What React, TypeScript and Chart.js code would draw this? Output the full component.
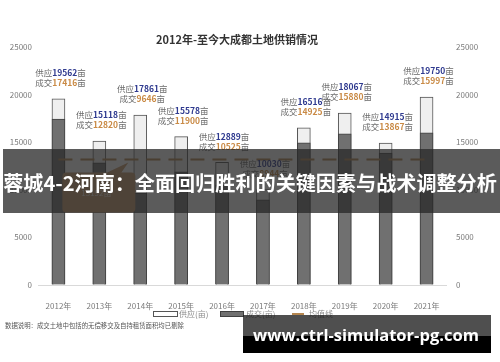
import { useEffect, useRef } from 'react';
import { Chart, registerables } from 'chart.js';

Chart.register(...registerables);

const years = ['2012年', '2013年', '2014年', '2015年', '2016年', '2017年', '2018年', '2019年', '2020年', '2021年'];
const supplyValues = [19562, 15118, 17861, 15578, 12889, 10030, 16516, 18067, 14915, 19750];
const dealValues = [17416, 12820, 9646, 11900, 10525, 8944, 14925, 15880, 13867, 15997];
const meanValues = [13192, 13192, 13192, 13192, 13192, 13192, 13192, 13192, 13192, 13192];
const meanLabel = '13192亩';
const yTickValues = [0, 5000, 10000, 15000, 20000, 25000];

const titleText = '2012年-至今大成都土地供销情况';
const bannerText = '蓉城4-2河南：全面回归胜利的关键因素与战术调整分析';
const siteText = 'www.ctrl-simulator-pg.com';
const noteText = '数据说明：成交土地中包括的无偿移交及自持租赁面积均已剔除';
const legendLabels = ['供应(亩)', '成交(亩)', '均值线'];

const CJK = '"Noto Sans CJK SC", "Noto Sans", sans-serif';
const SUPPLY_FILL = '#efefef';
const SUPPLY_BORDER = '#555555';
const DEAL_FILL = '#707070';
const DEAL_BORDER = '#404040';
const MEAN_COLOR = '#b5864f';
const NAVY = '#2f3a8f';
const ORANGE = '#c98a45';
const LABEL_GRAY = '#6a6a6a';

function fitSize(ctx: CanvasRenderingContext2D, text: string, weight: string, family: string, target: number) {
  ctx.font = `${weight} 20px ${family}`;
  const w = ctx.measureText(text).width;
  return (20 * target) / w;
}

function drawLabelLine(ctx: CanvasRenderingContext2D, cx: number, cy: number, prefix: string, num: string, numColor: string) {
  const size = 8.5;
  const normal = `normal ${size}px ${CJK}`;
  const bold = `bold ${size}px ${CJK}`;
  ctx.font = normal;
  const w1 = ctx.measureText(prefix).width;
  const w3 = ctx.measureText('亩').width;
  ctx.font = bold;
  const w2 = ctx.measureText(num).width;
  let x = cx - (w1 + w2 + w3) / 2;
  ctx.textBaseline = 'middle';
  ctx.textAlign = 'left';
  ctx.font = normal;
  ctx.fillStyle = LABEL_GRAY;
  ctx.fillText(prefix, x, cy);
  x += w1;
  ctx.font = bold;
  ctx.fillStyle = numColor;
  ctx.fillText(num, x, cy);
  x += w2;
  ctx.font = normal;
  ctx.fillStyle = LABEL_GRAY;
  ctx.fillText('亩', x, cy);
}

const overlayPlugin = {
  id: 'overlayPlugin',
  afterDatasetsDraw(chart: any) {
    const ctx: CanvasRenderingContext2D = chart.ctx;
    const meta = chart.getDatasetMeta(0);
    ctx.save();
    meta.data.forEach((bar: any, i: number) => {
      const cx = bar.x + 2;
      const top = bar.y;
      drawLabelLine(ctx, cx, top - 26, '供应', String(supplyValues[i]), NAVY);
      drawLabelLine(ctx, cx, top - 16, '成交', String(dealValues[i]), ORANGE);
    });

    // mean callout bubble
    const yMean = chart.scales.y.getPixelForValue(meanValues[1]);
    const xc = chart.scales.x.getPixelForValue(1);
    ctx.fillStyle = '#c99a6c';
    ctx.beginPath();
    const l = xc - 37, r = xc + 36, t = yMean + 13, b = yMean + 53, rad = 4;
    ctx.moveTo(l + rad, t);
    ctx.lineTo(xc + 8, t);
    ctx.lineTo(xc + 29, yMean + 3);
    ctx.lineTo(xc + 22, t);
    ctx.lineTo(r - rad, t);
    ctx.quadraticCurveTo(r, t, r, t + rad);
    ctx.lineTo(r, b - rad);
    ctx.quadraticCurveTo(r, b, r - rad, b);
    ctx.lineTo(l + rad, b);
    ctx.quadraticCurveTo(l, b, l, b - rad);
    ctx.lineTo(l, t + rad);
    ctx.quadraticCurveTo(l, t, l + rad, t);
    ctx.closePath();
    ctx.fill();
    ctx.fillStyle = '#f4ede4';
    ctx.font = `normal 8px ${CJK}`;
    ctx.textAlign = 'center';
    ctx.textBaseline = 'middle';
    ctx.fillText(meanLabel, xc - 3, yMean + 34);
    ctx.restore();
  },
  afterDraw(chart: any) {
    const ctx: CanvasRenderingContext2D = chart.ctx;
    ctx.save();
    // title
    ctx.fillStyle = '#333333';
    ctx.font = `bold 11px ${CJK}`;
    ctx.textAlign = 'center';
    ctx.textBaseline = 'middle';
    ctx.fillText(titleText, 237, 40);

    // legend
    const ly = 314;
    ctx.lineWidth = 1;
    ctx.fillStyle = '#ffffff';
    ctx.strokeStyle = SUPPLY_BORDER;
    ctx.fillRect(153.5, ly - 2.5, 24, 5);
    ctx.strokeRect(153.5, ly - 2.5, 24, 5);
    ctx.fillStyle = DEAL_FILL;
    ctx.strokeStyle = DEAL_BORDER;
    ctx.fillRect(220.5, ly - 2.5, 23, 5);
    ctx.strokeRect(220.5, ly - 2.5, 23, 5);
    ctx.strokeStyle = MEAN_COLOR;
    ctx.lineWidth = 2;
    ctx.beginPath();
    ctx.moveTo(292, ly);
    ctx.lineTo(304, ly);
    ctx.stroke();
    ctx.fillStyle = '#8a8a8a';
    ctx.font = `normal 8px ${CJK}`;
    ctx.textAlign = 'left';
    ctx.textBaseline = 'middle';
    ctx.fillText(legendLabels[0], 179, ly);
    ctx.fillText(legendLabels[1], 246, ly);
    ctx.fillText(legendLabels[2], 309, ly);

    // footnote
    ctx.fillStyle = '#555555';
    ctx.font = `normal 6.4px ${CJK}`;
    ctx.fillText(noteText, 5, 326);

    // banner
    ctx.fillStyle = 'rgba(40,40,40,0.76)';
    ctx.fillRect(3, 149, 497, 64);
    const bs = fitSize(ctx, bannerText, 'bold', CJK, 494);
    ctx.font = `bold ${bs}px ${CJK}`;
    ctx.fillStyle = '#ffffff';
    ctx.textAlign = 'center';
    ctx.textBaseline = 'middle';
    ctx.fillText(bannerText, 250, 183);

    // site watermark
    ctx.fillStyle = 'rgba(30,30,30,0.78)';
    ctx.fillRect(243, 315, 248, 21);
    ctx.fillStyle = '#000000';
    ctx.fillRect(243, 336, 248, 17);
    const ss = fitSize(ctx, siteText, 'bold', '"Open Sans", sans-serif', 226);
    ctx.font = `bold ${ss}px "Open Sans", sans-serif`;
    ctx.fillStyle = '#ffffff';
    ctx.fillText(siteText, 366, 336);
    ctx.restore();
  },
};

export default function App() {
  const canvasRef = useRef<HTMLCanvasElement | null>(null);

  useEffect(() => {
    const canvas = canvasRef.current;
    if (!canvas) return;
    const tickFont = { family: CJK, size: 8 };
    const chart = new Chart(canvas, {
      type: 'bar',
      data: {
        labels: years,
        datasets: [
          {
            type: 'bar',
            label: '供应(亩)',
            data: supplyValues,
            backgroundColor: SUPPLY_FILL,
            borderColor: SUPPLY_BORDER,
            borderWidth: 1,
            barThickness: 13,
            grouped: false,
            order: 2,
            yAxisID: 'y',
          } as any,
          {
            type: 'bar',
            label: '成交(亩)',
            data: dealValues,
            backgroundColor: DEAL_FILL,
            borderColor: DEAL_BORDER,
            borderWidth: 1,
            barThickness: 13,
            grouped: false,
            order: 1,
            yAxisID: 'y',
          } as any,
          {
            type: 'line',
            label: '均值线',
            data: meanValues,
            borderColor: MEAN_COLOR,
            borderWidth: 2,
            borderDash: [14, 8],
            pointRadius: 0,
            fill: false,
            order: 0,
            yAxisID: 'y',
          } as any,
        ],
      },
      options: {
        responsive: false,
        animation: false,
        devicePixelRatio: 1,
        layout: { padding: { top: 47, left: 0, right: 0, bottom: 0 } },
        plugins: {
          legend: { display: false },
          tooltip: { enabled: false },
          title: { display: false },
        },
        scales: {
          x: {
            grid: { display: false },
            border: { display: false },
            ticks: { font: tickFont, color: '#7a7a7a', padding: 8, maxRotation: 0 },
            afterFit: (s: any) => {
              s.height = 77;
            },
          },
          y: {
            position: 'left',
            min: 0,
            max: 25000,
            grid: {
              drawTicks: false,
              color: (c: any) => (c.tick && c.tick.value === 0 ? '#d9d9d9' : 'rgba(0,0,0,0)'),
            },
            border: { display: false },
            afterBuildTicks: (s: any) => {
              s.ticks = yTickValues.map((v) => ({ value: v }));
            },
            ticks: { font: tickFont, color: '#7a7a7a', padding: 6, callback: (v: any) => String(v) },
            afterFit: (s: any) => {
              s.width = 38;
            },
          },
          y2: {
            position: 'right',
            min: 0,
            max: 25000,
            grid: { display: false, drawTicks: false },
            border: { display: false },
            afterBuildTicks: (s: any) => {
              s.ticks = yTickValues.map((v) => ({ value: v }));
            },
            ticks: { font: tickFont, color: '#7a7a7a', padding: 9, callback: (v: any) => String(v) },
            afterFit: (s: any) => {
              s.width = 53;
            },
          },
        },
      } as any,
      plugins: [overlayPlugin],
    });
    return () => chart.destroy();
  }, []);

  return (
    <div style={{ position: 'fixed', left: 0, top: 0, width: 500, height: 362, background: '#ffffff' }}>
      <canvas ref={canvasRef} width={500} height={362} style={{ display: 'block', width: 500, height: 362 }} />
    </div>
  );
}
